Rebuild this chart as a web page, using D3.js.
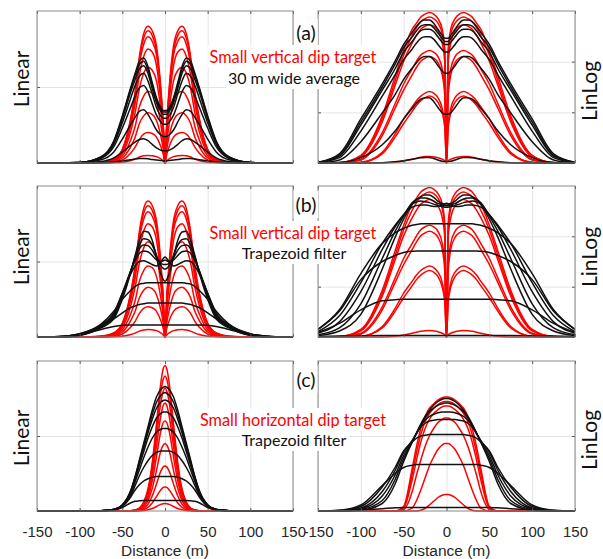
<!DOCTYPE html>
<html>
<head>
<meta charset="utf-8">
<script src="https://cdn.jsdelivr.net/npm/d3@7"></script>
<style>
  body { margin: 0; background: #fff; }
</style>
</head>
<body>
<div class="main_contain"></div>
<script>
// half profile sample positions (m); every profile is symmetric about 0
var halfX = [0, 2, 5, 10, 15, 20, 25, 30, 35, 40, 50, 60, 75, 100, 125, 150];
var xTicks = [-150, -100, -50, 0, 50, 100, 150];
var linGrid = [50];
var logGridAB = [100 / 3, 200 / 3];
var logGridC = [50];

// small vertical dip target, linear amplitude (rows a and b), % of panel height
var vertLinRed = [
  [0, 25, 50, 77, 87, 90, 85, 70, 47, 30, 9, 2.7, 0.5, 0, 0, 0],
  [0, 24, 48, 74, 84, 87, 82, 68, 45, 29, 8.7, 2.6, 0.4, 0, 0, 0],
  [0, 23, 46, 71, 80, 83, 78, 65, 43, 27, 8.3, 2.5, 0.4, 0, 0, 0],
  [0, 21, 41, 64, 73, 75, 70, 58, 39, 25, 7.5, 2.2, 0.4, 0, 0, 0],
  [0, 18, 35, 54, 61, 63, 59, 49, 33, 21, 6.3, 1.9, 0.3, 0, 0, 0],
  [0, 13, 26, 40, 46, 47, 44, 37, 24, 15.5, 4.7, 1.4, 0.2, 0, 0, 0],
  [0, 9, 18, 28, 32, 33, 31, 26, 17, 11, 3.3, 1, 0.2, 0, 0, 0],
  [0, 5.6, 11, 17, 19.4, 20, 19, 15.6, 10.4, 6.6, 2, 0.6, 0, 0, 0, 0],
  [0, 1.4, 2.8, 4.2, 4.8, 5, 4.7, 3.9, 2.6, 1.6, 0.5, 0.2, 0, 0, 0, 0]
];

// small vertical dip target, linlog amplitude (rows a and b)
var vertLogRed = [
  [0, 75, 88, 95, 98, 99, 98, 96, 92, 88, 74, 57, 31, 5, 0.3, 0],
  [0, 72, 85, 92, 95, 96, 95, 93, 89, 84, 71, 54, 29, 4.5, 0.2, 0],
  [0, 66, 79, 87, 90, 91, 90, 88, 84, 79, 67, 51, 27, 4, 0.2, 0],
  [0, 48, 62, 70, 73, 74, 73, 71, 67, 62, 52, 39, 20, 2.5, 0, 0],
  [0, 44, 58, 66, 69, 70, 69, 67, 63, 58, 48, 36, 18, 2, 0, 0],
  [0, 25, 36, 43, 46, 47, 46, 44, 41, 37, 29, 19, 7, 0.5, 0, 0],
  [0, 23, 33, 40, 43, 44, 43, 41, 38, 34, 26, 17, 6, 0.4, 0, 0],
  [0, 1.5, 2.5, 3.5, 4, 4.3, 4.2, 3.8, 3.2, 2.5, 1.3, 0.5, 0, 0, 0, 0]
];

// (a) 30 m wide average
var aLinBlack = [
  [34.5, 34.5, 36.5, 43, 53, 63.5, 69, 67, 59, 50, 31, 14.5, 4, 0.3, 0, 0],
  [33.5, 33.5, 35.5, 41.5, 51.5, 61.5, 67, 65, 57.5, 49, 30, 14, 4, 0.3, 0, 0],
  [32, 32, 34, 40, 49, 59, 64, 62, 55, 47, 29, 13.5, 3.8, 0.3, 0, 0],
  [29.5, 29.5, 31, 36.5, 45.5, 54, 59, 57, 51, 43, 26.5, 12.4, 3.5, 0.3, 0, 0],
  [25.5, 25.5, 27, 31.5, 39, 47, 51, 49.5, 44, 37, 23, 10.7, 3, 0.2, 0, 0],
  [17.5, 17.5, 18.5, 21.7, 27, 32, 35, 34, 30, 25.5, 15.7, 7.3, 2.1, 0.2, 0, 0],
  [8, 8, 8.5, 10, 12.3, 14.7, 16, 15.5, 13.8, 11.7, 7.2, 3.4, 1, 0, 0, 0],
  [1.5, 1.5, 1.6, 1.9, 2.3, 2.8, 3, 2.9, 2.6, 2.2, 1.4, 0.6, 0.2, 0, 0, 0]
];
var aLogBlack = [
  [82, 82, 84, 88, 92, 94, 94, 93, 90, 86, 78, 67, 52, 29, 6, 0.5],
  [80, 80, 82, 85.5, 89, 91, 91, 90, 87, 83, 76, 65, 50, 27, 5, 0.4],
  [78, 78, 79.5, 83, 86.5, 88, 88, 87, 84, 80, 73, 62, 48, 25, 4.5, 0.3],
  [73, 73, 74.5, 78, 81.5, 83, 83, 82, 79, 75, 68, 58, 44, 21, 3.5, 0.2],
  [59, 59, 60.5, 64, 68, 70, 70, 69, 66, 62.5, 55, 45, 33, 14, 2, 0],
  [32, 32, 33, 36.5, 40.5, 43, 43, 42, 39.5, 36, 29, 21, 12, 3.5, 0.3, 0],
  [1, 1, 1.2, 2, 3, 3.7, 3.7, 3.4, 3, 2.5, 1.5, 0.8, 0.2, 0, 0, 0]
];

// (b) trapezoid filter
var bLinBlack = [
  [37, 38, 42, 53, 64, 69.5, 70, 64, 54, 43, 25, 12, 6, 1, 0, 0],
  [45, 45.5, 47.5, 54, 61, 64.5, 65, 61, 53, 44, 27, 13, 6.5, 1.2, 0, 0],
  [48, 48, 49, 52.5, 57.5, 60.5, 61, 58.5, 52, 44, 28, 14, 7, 1.3, 0, 0],
  [51, 50.5, 50, 51, 54, 56.5, 57, 55.5, 50.5, 44, 29, 15, 7.5, 1.5, 0, 0],
  [53, 52, 49.5, 47, 48, 49.5, 50.5, 50, 47, 42, 29, 16, 8, 1.7, 0, 0],
  [36, 36, 36, 36, 36, 36, 35.5, 35, 33.5, 31, 25, 17, 8.5, 2, 0.2, 0],
  [22.5, 22.5, 22.5, 22.5, 22.5, 22.5, 22, 21.5, 20.5, 19.5, 16, 12, 7.5, 2.2, 0.3, 0],
  [8, 8, 8, 8, 8, 8, 8, 8, 8, 8, 7.8, 7, 5, 1.8, 0.3, 0]
];
var bLogBlack = [
  [88, 88, 88.5, 90, 92.5, 94, 94, 93, 91, 88, 78, 66, 45, 15, 4, 1],
  [87, 87, 87.5, 88.5, 90, 91.5, 92, 92, 91, 89, 80, 70, 52, 22, 6, 1.5],
  [86, 86, 86.3, 87, 88, 89, 89.5, 90, 89.5, 88, 81, 73, 58, 30, 10, 2.5],
  [88.5, 88.3, 87.5, 86.5, 86.5, 87, 87.5, 87.5, 87, 86, 81, 74, 62, 36, 14, 3.5],
  [75, 75, 75, 75, 75, 75, 75, 75, 74.5, 74, 72, 69, 62, 42, 18, 5],
  [57, 57, 57, 57, 57, 57, 57, 57, 57, 56.8, 56, 54, 50, 38, 17, 5],
  [25, 25, 25, 25, 25, 25, 25, 25, 25, 25, 25, 24.7, 24, 18, 9, 3],
  [1, 1, 1, 1, 1, 1, 1, 1, 1, 1, 1, 1, 1, 0.8, 0.6, 0.4]
];

// (c) small horizontal dip target, trapezoid filter
var cLinRed = [
  [97, 95, 85, 58, 32, 14.5, 6, 2, 0.7, 0.2, 0, 0, 0, 0, 0, 0],
  [90, 88, 79, 54, 30, 13.5, 5.4, 1.8, 0.6, 0.2, 0, 0, 0, 0, 0, 0],
  [82, 80, 72, 49, 27, 12, 5, 1.6, 0.6, 0.2, 0, 0, 0, 0, 0, 0],
  [72, 70.5, 63, 43, 24, 11, 4.3, 1.4, 0.5, 0.1, 0, 0, 0, 0, 0, 0],
  [60, 59, 53, 36, 20, 9, 3.6, 1.2, 0.4, 0.1, 0, 0, 0, 0, 0, 0],
  [45, 44, 40, 27, 15, 6.8, 2.7, 0.9, 0.3, 0, 0, 0, 0, 0, 0, 0],
  [30, 29.4, 26.4, 18, 10, 4.5, 1.8, 0.6, 0.2, 0, 0, 0, 0, 0, 0, 0],
  [16, 15.7, 14, 9.6, 5.3, 2.4, 1, 0.3, 0.1, 0, 0, 0, 0, 0, 0, 0],
  [5, 4.9, 4.4, 3, 1.7, 0.8, 0.3, 0.1, 0, 0, 0, 0, 0, 0, 0, 0]
];
var cLinBlack = [
  [83, 82.5, 81, 76, 67, 56, 45, 34, 23, 14, 4, 1, 0.2, 0, 0, 0],
  [79, 78.5, 77, 72.5, 64, 54, 43.5, 33, 22.5, 13.5, 4, 1, 0.2, 0, 0, 0],
  [74, 73.7, 72.5, 68.5, 61, 52, 42, 32, 22, 13, 4, 1, 0.2, 0, 0, 0],
  [66, 66, 65, 62, 56, 48.5, 39.5, 30.5, 21, 12.5, 3.8, 1, 0.2, 0, 0, 0],
  [55, 55, 54.5, 52.5, 48.5, 42.5, 35.5, 27.5, 19.5, 12, 3.6, 1, 0.2, 0, 0, 0],
  [40, 40, 40, 39, 37, 33.5, 29, 23.5, 17, 10.5, 3.4, 0.9, 0.2, 0, 0, 0],
  [23, 23, 23, 23, 22.5, 21.5, 20, 17.5, 14, 9.5, 3, 0.8, 0.1, 0, 0, 0],
  [7, 7, 7, 7, 7, 7, 7, 6.8, 6.5, 5.5, 2.3, 0.6, 0.1, 0, 0, 0]
];
var cLogRed = [
  [76, 76, 75.5, 74, 71.5, 68.5, 63, 55, 43, 28.5, 3, 0, 0, 0, 0, 0],
  [73, 73, 72.5, 71, 68.5, 65, 59.5, 51, 39, 25, 2.5, 0, 0, 0, 0, 0],
  [70, 70, 69.5, 67.5, 65, 61, 55, 46, 34, 21, 2, 0, 0, 0, 0, 0],
  [62, 62, 61, 59, 55, 50, 43, 34, 24, 13, 1, 0, 0, 0, 0, 0],
  [45, 45, 44, 41, 36, 30, 22, 14, 7, 2, 0, 0, 0, 0, 0, 0],
  [11, 11, 10.5, 9, 6.5, 4, 1.8, 0.5, 0, 0, 0, 0, 0, 0, 0, 0]
];
var cLogBlack = [
  [75, 75, 74.5, 73, 70.5, 67, 63, 58, 52, 46, 33, 18, 5, 0.5, 0, 0],
  [72, 72, 71.5, 70.5, 68.5, 66, 62, 57.5, 52, 46, 35, 21, 7, 1, 0, 0],
  [66, 66, 66, 65.5, 64.5, 63, 60.5, 57, 52, 46.5, 37, 24, 10, 1.5, 0, 0],
  [61, 61, 61, 61, 60.5, 60, 58.5, 56, 51.5, 47, 39, 27, 13, 2, 0, 0],
  [51, 51, 51, 51, 51, 51, 50.5, 50, 48.5, 46, 40, 29, 16, 3, 0.3, 0],
  [31, 31, 31, 31, 31, 31, 31, 31, 31, 30.5, 29, 25, 17, 4, 0.5, 0],
  [2.4, 2.4, 2.4, 2.4, 2.4, 2.4, 2.4, 2.4, 2.4, 2.4, 2.3, 2.1, 1.5, 0.8, 0.3, 0.1]
];

var rowTags = ['(a)', '(b)', '(c)'];
var targetNotes = ['Small vertical dip target', 'Small vertical dip target', 'Small horizontal dip target'];
var filterNotes = ['30 m wide average', 'Trapezoid filter', 'Trapezoid filter'];
var scaleNames = ['Linear', 'LinLog'];

// layout of the 3 x 2 grid of panels
var cols = [{x0: 37, x1: 293}, {x0: 318, x1: 575}];
var rows = [{y0: 11, y1: 163}, {y0: 186, y1: 337}, {y0: 361, y1: 511}];
var panels = [
  {row: 0, col: 0, red: vertLinRed, black: aLinBlack, grid: linGrid},
  {row: 0, col: 1, red: vertLogRed, black: aLogBlack, grid: logGridAB},
  {row: 1, col: 0, red: vertLinRed, black: bLinBlack, grid: linGrid},
  {row: 1, col: 1, red: vertLogRed, black: bLogBlack, grid: logGridAB},
  {row: 2, col: 0, red: cLinRed, black: cLinBlack, grid: linGrid},
  {row: 2, col: 1, red: cLogRed, black: cLogBlack, grid: logGridC}
];

// mirror a half profile into a full one
function fullProfile(vals) {
  var pts = [];
  for (var i = halfX.length - 1; i > 0; i--) pts.push([-halfX[i], vals[i]]);
  halfX.forEach((h, i) => pts.push([h, vals[i]]));
  return pts;
}

var svg = d3.select('body')
            .select('.main_contain')
            .append('svg')
            .attr('width', 603)
            .attr('height', 559)
            .style('background', '#fff');

var tickFont = 'Liberation Sans, Arial, sans-serif';
var noteFont = 'Lato, Open Sans, sans-serif';

function drawPanel(p, idx) {
  var c = cols[p.col], r = rows[p.row];
  var x = d3.scaleLinear().domain([-150, 150]).range([c.x0, c.x1]);
  var y = d3.scaleLinear().domain([0, 100]).range([r.y1, r.y0]);
  var h = r.y1 - r.y0, w = c.x1 - c.x0;

  var g = svg.append('g').attr('class', 'panel');

  // clip path for the curves
  g.append('clipPath').attr('id', 'clip' + idx)
    .append('rect')
    .attr('x', c.x0).attr('y', r.y0 - 1)
    .attr('width', w).attr('height', h + 2);

  // grid lines
  g.append('g')
    .attr('class', 'grid')
    .attr('transform', 'translate(0,' + r.y1 + ')')
    .call(d3.axisBottom(x).tickValues(xTicks).tickSize(-h).tickFormat(''));
  g.append('g')
    .attr('class', 'grid')
    .attr('transform', 'translate(' + c.x0 + ',0)')
    .call(d3.axisLeft(y).tickValues(p.grid).tickSize(-w).tickFormat(''));
  g.selectAll('.grid .domain').remove();
  g.selectAll('.grid line').style('stroke', '#e4e4e4').style('stroke-width', 1);

  var line = d3.line()
               .x(d => x(d[0]))
               .y(d => y(d[1]))
               .curve(d3.curveMonotoneX);

  var curves = g.append('g').attr('clip-path', 'url(#clip' + idx + ')');
  curves.selectAll('path.red')
    .data(p.red)
    .enter().append('path')
    .attr('class', 'red')
    .attr('d', d => line(fullProfile(d)))
    .style('fill', 'none')
    .style('stroke', '#ff0000')
    .style('stroke-width', 1.5);
  curves.selectAll('path.black')
    .data(p.black)
    .enter().append('path')
    .attr('class', 'black')
    .attr('d', d => line(fullProfile(d)))
    .style('fill', 'none')
    .style('stroke', '#111')
    .style('stroke-width', 1.5);

  // inward ticks on all four sides
  var tk = 3;
  g.append('g').attr('class', 'tk').attr('transform', 'translate(0,' + r.y1 + ')')
    .call(d3.axisBottom(x).tickValues(xTicks).tickSize(-tk).tickFormat(''));
  g.append('g').attr('class', 'tk').attr('transform', 'translate(0,' + r.y0 + ')')
    .call(d3.axisTop(x).tickValues(xTicks).tickSize(-tk).tickFormat(''));
  g.append('g').attr('class', 'tk').attr('transform', 'translate(' + c.x0 + ',0)')
    .call(d3.axisLeft(y).tickValues(p.grid).tickSize(-tk).tickFormat(''));
  g.append('g').attr('class', 'tk').attr('transform', 'translate(' + c.x1 + ',0)')
    .call(d3.axisRight(y).tickValues(p.grid).tickSize(-tk).tickFormat(''));
  g.selectAll('.tk .domain').remove();
  g.selectAll('.tk line').style('stroke', '#555');

  // box
  g.append('rect')
    .attr('x', c.x0).attr('y', r.y0)
    .attr('width', w).attr('height', h)
    .style('fill', 'none')
    .style('stroke', '#8a8a8a')
    .style('stroke-width', 1);

  // tick labels and axis title on the bottom row (plain hyphen minus like the original)
  if (p.row == 2) {
    var ax = g.append('g')
      .attr('class', 'xlab')
      .attr('transform', 'translate(0,' + r.y1 + ')')
      .call(d3.axisBottom(x).tickValues(xTicks).tickSize(0).tickPadding(15)
              .tickFormat(d => String(d)));
    ax.select('.domain').remove();
    ax.selectAll('text')
      .style('font-family', tickFont)
      .style('font-size', '15px')
      .style('fill', '#262626');
    g.append('text')
      .attr('x', (c.x0 + c.x1) / 2)
      .attr('y', 556)
      .attr('text-anchor', 'middle')
      .style('font-family', tickFont)
      .style('font-size', '15.5px')
      .style('fill', '#262626')
      .text('Distance (m)');
  }

  // scale name at the outer side
  var sx = p.col == 0 ? 29 : 597;
  var sy = [79, 257, 438][p.row] + (p.col == 1 ? [12, 0, 2][p.row] : 0);
  g.append('text')
    .attr('transform', 'translate(' + sx + ',' + sy + ') rotate(-90)')
    .attr('text-anchor', 'middle')
    .style('font-family', noteFont)
    .style('font-size', '21px')
    .style('fill', '#111')
    .text(scaleNames[p.col]);
}

panels.forEach(drawPanel);

// annotations with white boxes, centred on the gap between columns
var tagY = [40, 212, 387];
var targetY = [63, 239, 426];
var filterY = [84, 259, 446];

function addNote(txt, cx, by, size, color) {
  var t = svg.append('text')
    .attr('x', cx)
    .attr('y', by)
    .attr('text-anchor', 'middle')
    .style('font-family', noteFont)
    .style('font-size', size + 'px')
    .style('fill', color)
    .text(txt);
  var bb = t.node().getBBox();
  svg.insert('rect', function() { return t.node(); })
    .attr('x', bb.x - 2).attr('y', bb.y - 2)
    .attr('width', bb.width + 4).attr('height', bb.height + 4)
    .style('fill', '#fff');
}

rowTags.forEach((tag, i) => {
  addNote(tag, 306, tagY[i], 19.5, '#111');
  addNote(targetNotes[i], 293, targetY[i], 16.3, '#ff0000');
  addNote(filterNotes[i], 294, filterY[i], 16, '#111');
});
</script>
</body>
</html>
